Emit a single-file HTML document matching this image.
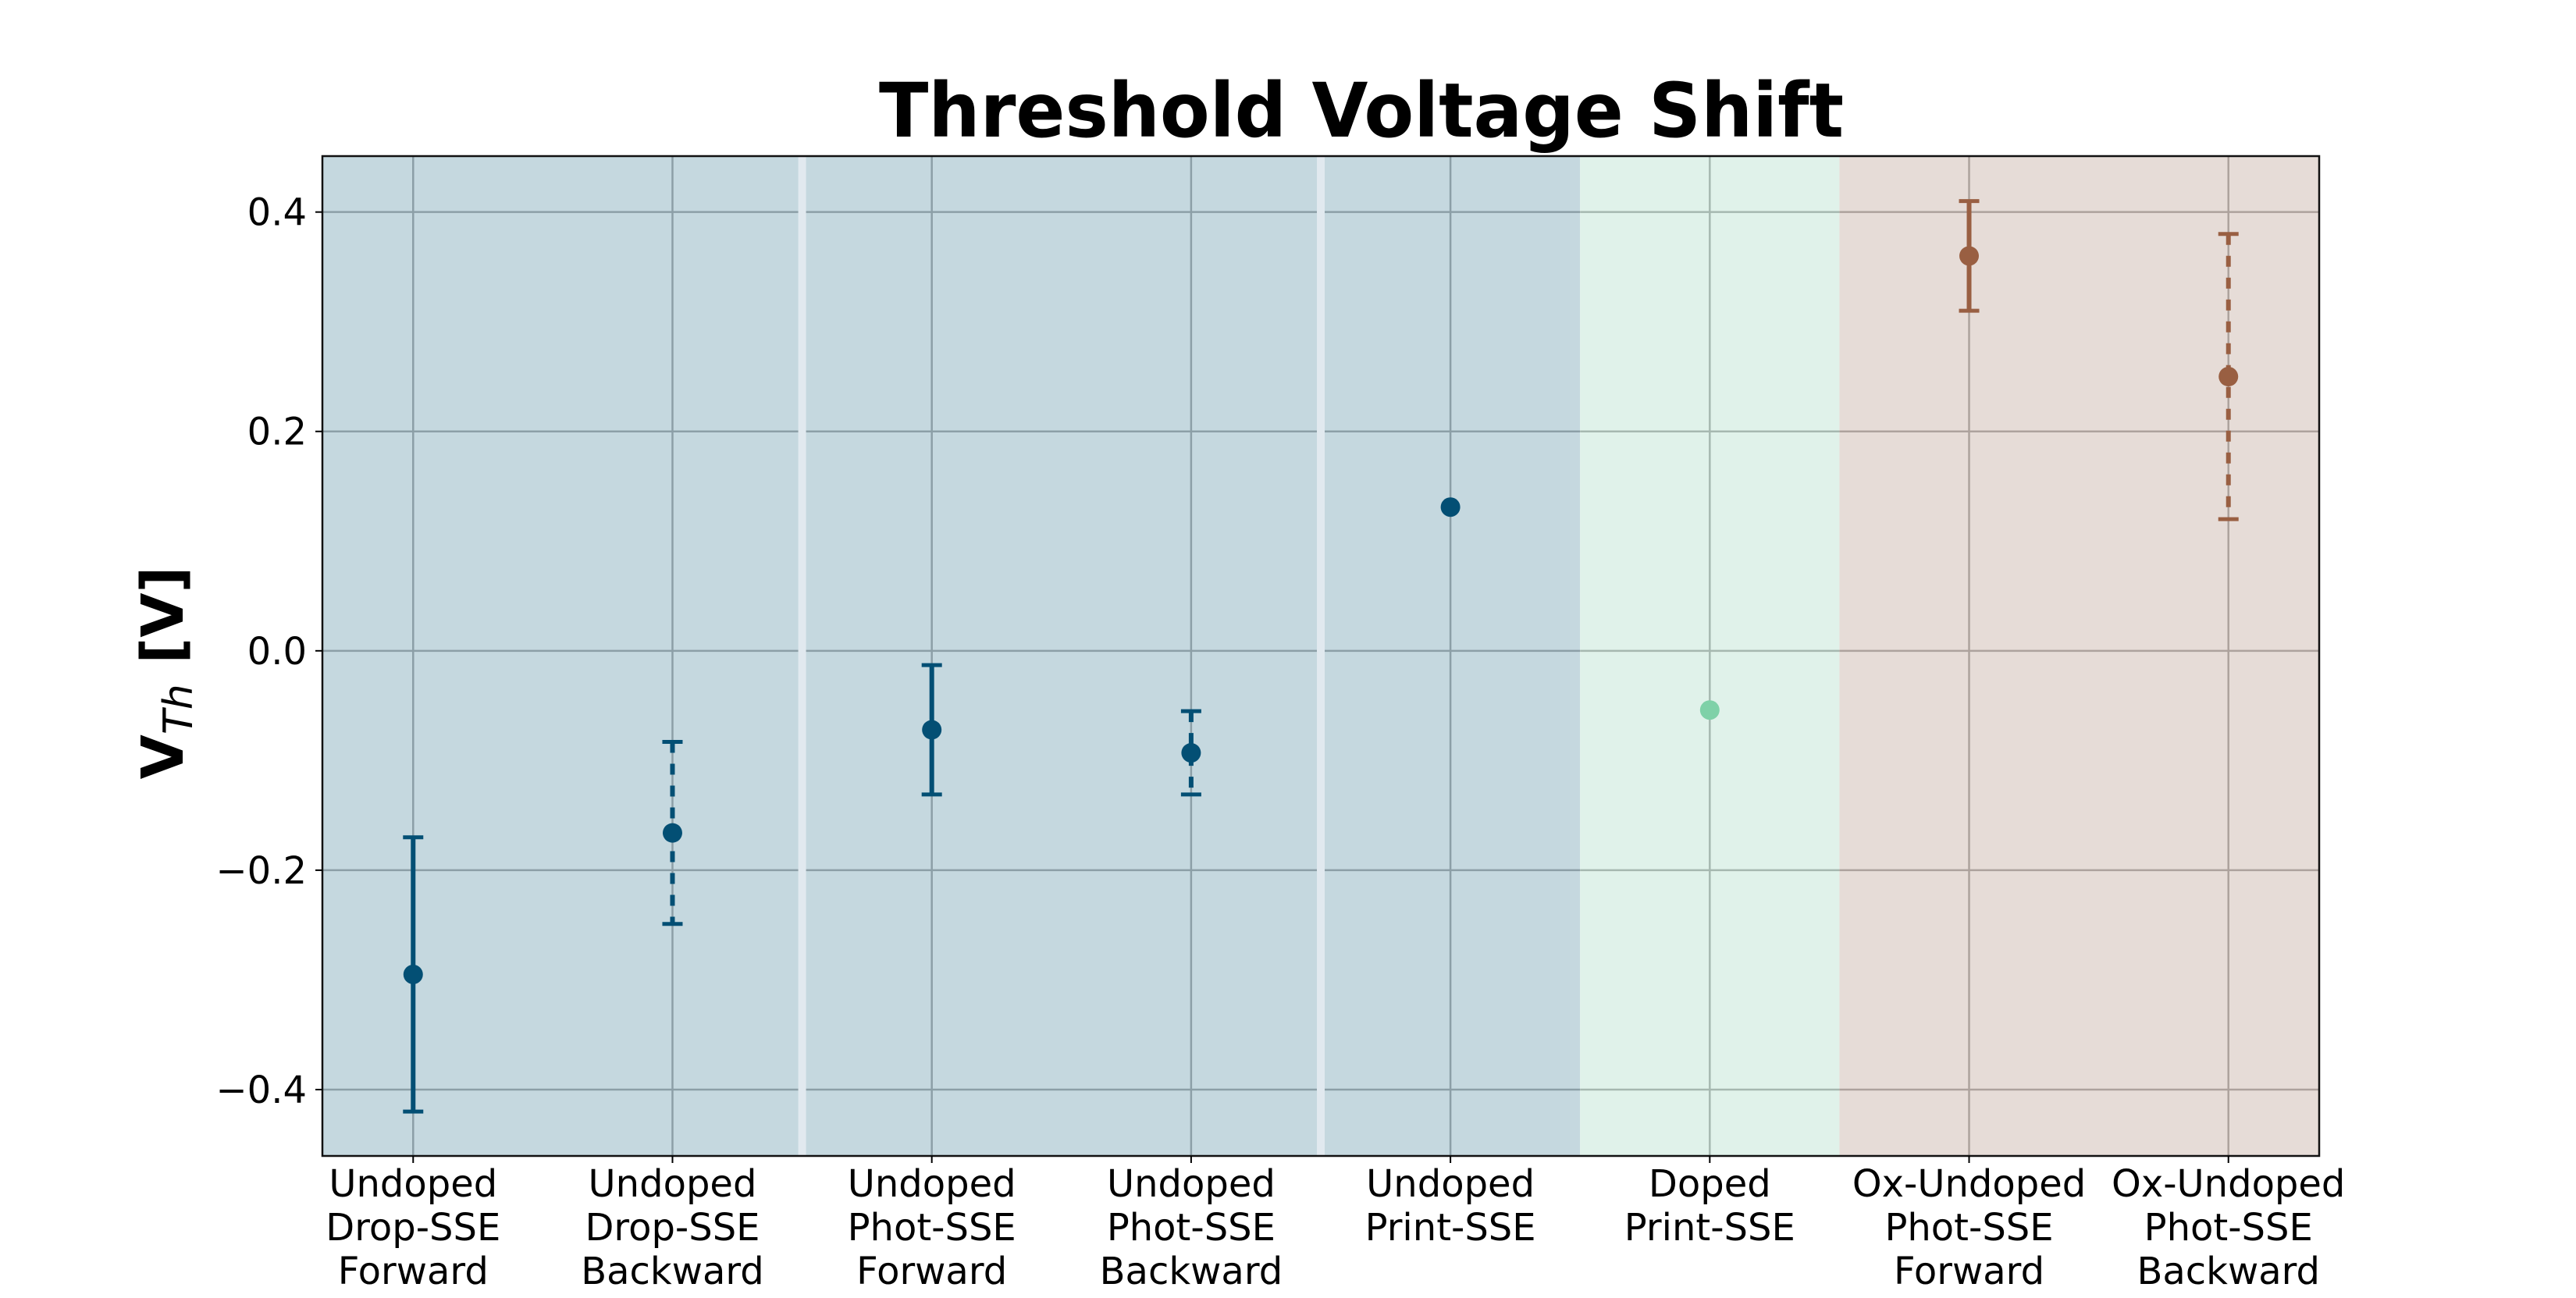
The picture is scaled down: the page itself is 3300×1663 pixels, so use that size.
<!DOCTYPE html>
<html><head><meta charset="utf-8"><style>
html,body{margin:0;padding:0;background:#fff;}
svg{display:block;font-family:"DejaVu Sans","Liberation Sans",sans-serif;}
</style></head>
<body>
<svg id="chart" width="3300" height="1663" viewBox="0 0 3300 1663" xmlns="http://www.w3.org/2000/svg">
<text x="1744" y="175" text-anchor="middle" font-size="96" font-weight="bold" textLength="1236" lengthAdjust="spacingAndGlyphs">Threshold Voltage Shift</text>
<g id="plot"></g>
<text transform="translate(234,862) rotate(-90)" text-anchor="middle" font-size="74" font-weight="bold">V<tspan font-size="52" font-weight="normal" font-style="italic" dy="12">Th</tspan><tspan dy="-12"> [V]</tspan></text>
</svg>
<script>
const categories = [["Undoped","Drop-SSE","Forward"],["Undoped","Drop-SSE","Backward"],["Undoped","Phot-SSE","Forward"],["Undoped","Phot-SSE","Backward"],["Undoped","Print-SSE"],["Doped","Print-SSE"],["Ox-Undoped","Phot-SSE","Forward"],["Ox-Undoped","Phot-SSE","Backward"]];
const values = [-0.295, -0.166, -0.072, -0.093, 0.131, -0.054, 0.360, 0.250];
const errors = [0.125, 0.083, 0.059, 0.038, 0, 0, 0.050, 0.130];
const dashed = [false, true, false, true, false, false, false, true];
const groups = ["blue","blue","blue","blue","blue","green","brown","brown"];
const yTicks = [-0.4, -0.2, 0.0, 0.2, 0.4];
const yTickLabels = ["\u22120.4","\u22120.2","0.0","0.2","0.4"];
const separators = [1.5, 3.5];

const L=413,R=2971,T=200,B=1481;
const xMin=-0.35,xMax=7.35,yMin=-0.4605,yMax=0.451;
const sx=v=>L+(v-xMin)/(xMax-xMin)*(R-L);
const sy=v=>B-(v-yMin)/(yMax-yMin)*(B-T);
const colors={blue:"#034f74",green:"#7fd1a8",brown:"#995f42"};
const bgs={blue:"#c5d8df",green:"#e0f2ea",brown:"#e6dcd7"};
const grids={blue:"#8c9fa7",green:"#a6b8b0",brown:"#ada29d"};
const NS="http://www.w3.org/2000/svg";
const g=document.getElementById('plot');
function mk(tag,attrs,parent){const e=document.createElementNS(NS,tag);for(const k in attrs)e.setAttribute(k,attrs[k]);(parent||g).appendChild(e);return e;}

let start=0;
for(let i=1;i<=groups.length;i++){
  if(i===groups.length||groups[i]!==groups[start]){
    const x0=start===0?L:sx(start-0.5), x1=i===groups.length?R:sx(i-0.5);
    const r=mk('rect',{x:x0,y:T,width:x1-x0,height:B-T,fill:bgs[groups[start]]});
    
    
    yTicks.forEach(t=>{const l=mk('line',{x1:x0,x2:x1,y1:sy(t),y2:sy(t),stroke:grids[groups[start]],'stroke-width':2.5});
      
      });
    for(let j=start;j<i;j++){const l=mk('line',{x1:sx(j),x2:sx(j),y1:T,y2:B,stroke:grids[groups[start]],'stroke-width':2.5});
      
      }
    start=i;
  }
}
separators.forEach(s=>{const l=mk('line',{x1:sx(s),x2:sx(s),y1:T,y2:B,stroke:"#e1e9ef",'stroke-width':10});
  
  });

const fr=mk('rect',{x:L,y:T,width:R-L,height:B-T,fill:'none',stroke:'#111','stroke-width':2.5});



yTicks.forEach((t,i)=>{
  mk('line',{x1:L-9,x2:L,y1:sy(t),y2:sy(t),stroke:'#000','stroke-width':2});
  const tx=mk('text',{x:L-20,y:sy(t)+17,'text-anchor':'end','font-size':48});
  tx.textContent=yTickLabels[i];
  
  
});
categories.forEach((c,i)=>{
  mk('line',{x1:sx(i),x2:sx(i),y1:B,y2:B+9,stroke:'#000','stroke-width':2});
  const tx=mk('text',{x:sx(i),y:1533,'text-anchor':'middle','font-size':48});
  
  
  c.forEach((line,k)=>{const ts=mk('tspan',{x:sx(i),dy:k===0?0:56},tx);ts.textContent=line;});
});

values.forEach((v,i)=>{
  const col=colors[groups[i]], x=sx(i);
  if(errors[i]>0){
    const e=mk('line',{x1:x,x2:x,y1:sy(v+errors[i]),y2:sy(v-errors[i]),stroke:col,'stroke-width':6});
    if(dashed[i]) e.setAttribute('stroke-dasharray','14 14');
    
    
    [v+errors[i],v-errors[i]].forEach(yy=>{const cp=mk('line',{x1:x-13,x2:x+13,y1:sy(yy),y2:sy(yy),stroke:col,'stroke-width':5});
      
      });
  }
  const p=mk('circle',{cx:x,cy:sy(v),r:12.5,fill:col});
  
  
});
</script>
</body></html>
